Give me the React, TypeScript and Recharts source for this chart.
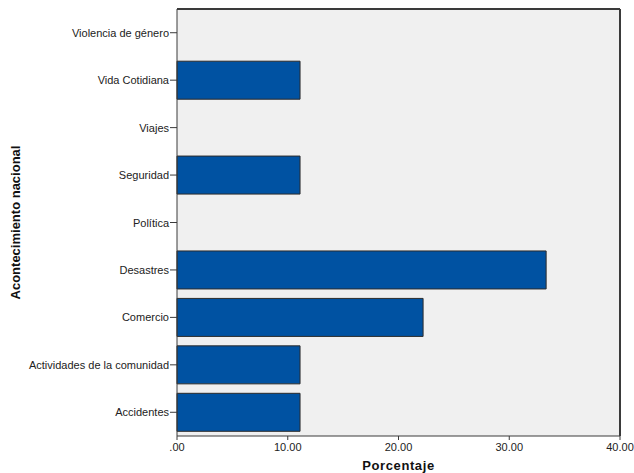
import { BarChart, Bar, XAxis, YAxis, CartesianGrid, ReferenceLine } from 'recharts';

const categories = [
  'Violencia de género',
  'Vida Cotidiana',
  'Viajes',
  'Seguridad',
  'Política',
  'Desastres',
  'Comercio',
  'Actividades de la comunidad',
  'Accidentes',
];
const porcentaje = [0, 11.11, 0, 11.11, 0, 33.33, 22.22, 11.11, 11.11];
const xTicks = [0, 10, 20, 30, 40];

const data = categories.map((name, i) => ({ name, value: porcentaje[i] }));

const AXIS = '#3a3a3a';
const FONT = '"Liberation Sans", Arial, sans-serif';

// rotated bold label on the left side of the y axis
function YLabel(props: any) {
  const vb = props.viewBox || {};
  const cy = vb.y + vb.height / 2;
  return (
    <text x={15} y={cy} transform={`rotate(-90, 15, ${cy})`} textAnchor="middle" dominantBaseline="central"
      fontFamily={FONT} fontWeight="bold" fontSize={13} fill="#111">
      Acontecimiento nacional
    </text>
  );
}

// single-line category tick (no wrapping)
function CatTick(props: any) {
  const { x, y, payload } = props;
  return (
    <text x={x} y={y} textAnchor="end" dominantBaseline="central" fontFamily={FONT} fontSize={11} fill="#222">
      {payload.value}
    </text>
  );
}

export default function App() {
  return (
    <div style={{ position: 'absolute', left: 0, top: 0, width: 634, height: 473, background: '#fff' }}>
      <BarChart width={634} height={473} data={data} layout="vertical"
        margin={{ top: 9, right: 14, bottom: 0, left: 0 }} barCategoryGap="10%">
        <CartesianGrid fill="#F0F0F0" horizontal={false} vertical={false} />
        <XAxis type="number" domain={[0, 40]} ticks={xTicks}
          tickFormatter={(v: number) => (v === 0 ? '.00' : v.toFixed(2))}
          height={37} tickSize={4} tickMargin={3}
          tick={{ fontSize: 11, fill: '#222', fontFamily: FONT }}
          axisLine={{ stroke: AXIS }} tickLine={{ stroke: AXIS }}
          label={{ value: 'Porcentaje', position: 'insideBottom', offset: 3,
            style: { fontFamily: FONT, fontWeight: 'bold', fontSize: 13, fill: '#111', letterSpacing: 0.6 } }} />
        <YAxis type="category" dataKey="name" width={177} tickSize={7} tickMargin={1} interval={0}
          tick={<CatTick />} axisLine={{ stroke: AXIS }} tickLine={{ stroke: AXIS }} label={<YLabel />} />
        <Bar dataKey="value" fill="#0052A2" stroke="#2b2b2b" strokeWidth={1} isAnimationActive={false} />
        {/* top and right edges of the plot frame */}
        <ReferenceLine y={categories[0]} position="start" stroke={AXIS} strokeWidth={2} ifOverflow="visible" />
        <ReferenceLine x={40} stroke={AXIS} strokeWidth={2} ifOverflow="visible" />
      </BarChart>
    </div>
  );
}
